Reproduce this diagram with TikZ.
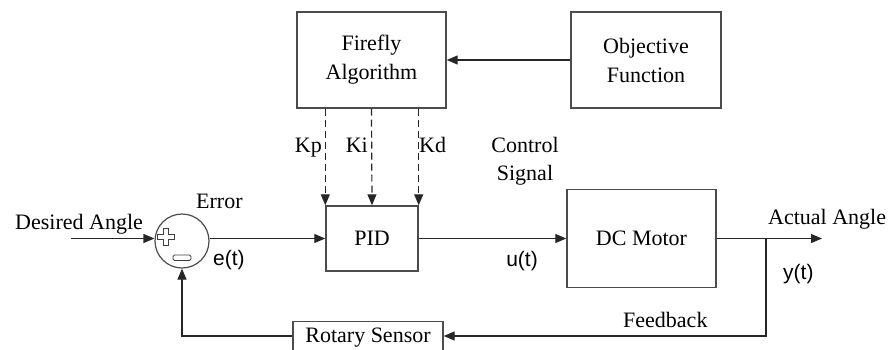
\documentclass[tikz,border=0pt]{standalone}
\usepackage{fontspec}
\setmainfont{Liberation Serif}
\newfontfamily\arialf{Liberation Sans}
\usetikzlibrary{arrows.meta,calc}
\begin{document}
\begin{tikzpicture}[x=1pt,y=-1pt,
  line/.style={draw=black!85, line width=1.2pt},
  arr/.style={line, -{Triangle[length=11pt,width=9pt]}},
  darr/.style={arr, dash pattern=on 7pt off 4pt},
  blk/.style={draw=black!70, line width=1.4pt, align=center, inner sep=0pt,
              font=\fontsize{22}{29}\selectfont},
  lbl/.style={font=\fontsize{22}{28}\selectfont, inner sep=0pt},
  sig/.style={font=\arialf\fontsize{21}{24}\selectfont, inner sep=0pt}]
\clip (0,0) rectangle (889,349);

% blocks
\node[blk, minimum width=149pt, minimum height=96pt] (ffa) at (371.5,60) {Firefly\\Algorithm};
\node[blk, minimum width=150pt, minimum height=96pt] (obj) at (646,60) {Objective\\Function};
\node[blk, minimum width=92pt, minimum height=65pt] (pid) at (372,238.5) {PID};
\node[blk, minimum width=149pt, minimum height=98pt] (dcm) at (641.5,238.5) {DC Motor};
\node[blk, minimum width=150pt, minimum height=36pt, anchor=north, text depth=0pt] (rs) at (368,321) {};
\node[lbl, anchor=base] (rst) at (368,342) {Rotary Sensor};

% summing junction
\node[draw=black!70, line width=1.2pt, circle, minimum size=54pt, inner sep=0pt] (sum) at (182,241) {};
\draw[black!75, line width=0.9pt]
  (163.5,228.5) -- (168.5,228.5) -- (168.5,234.5) -- (174.5,234.5) -- (174.5,239.5)
  -- (168.5,239.5) -- (168.5,245.5) -- (163.5,245.5) -- (163.5,239.5) -- (157.5,239.5)
  -- (157.5,234.5) -- (163.5,234.5) -- cycle;
\draw[black!75, line width=0.9pt, rounded corners=1.5pt] (173,255) rectangle (191,260.5);

% coordinates
\coordinate (in) at (71,238.5);
\coordinate (out) at (822,238.5);
\coordinate (br) at (766,238.5);
\coordinate (fbr) at (766,336);
\coordinate (fbl) at (182,336);

% connectors
\draw[arr] (obj.west) -- (ffa.east |- obj.west);
\draw[darr] (pid.north west |- ffa.south) -- (pid.north west);
\draw[darr] (ffa.south) -- (pid.north);
\draw[darr] (pid.north east |- ffa.south) -- (pid.north east);
\draw[arr] (in) -- (in -| sum.west);
\draw[arr] (sum.east |- pid.west) -- (pid.west);
\draw[arr] (pid.east) -- (dcm.west);
\draw[arr] (dcm.east) -- (out);
\draw[arr] (br) -- (fbr) -- (rs.east |- fbr);
\draw[arr] (rs.west |- fbl) -- (fbl) -- (sum.south);

% labels
\node[lbl, anchor=base west] (lda) at (15,229) {Desired Angle};
\node[lbl, anchor=base west] (lerr) at (196,208) {Error};
\node[sig, anchor=base west] (let) at (213,265) {e(t)};
\node[lbl, anchor=base east] (lkp) at (322,152) {Kp};
\node[lbl, anchor=base east] (lki) at (368,152) {Ki};
\node[lbl, anchor=base west] (lkd) at (419,152) {Kd};
\node[lbl, anchor=base, align=center] (lcs) at (525,180) {Control\\[0pt]Signal};
\node[sig, anchor=base] (lut) at (522,266) {u(t)};
\node[lbl, anchor=base west] (laa) at (768,224) {Actual Angle};
\node[sig, anchor=base west] (lyt) at (783,279) {y(t)};
\node[lbl, anchor=base west] (lfb) at (623,327) {Feedback};
\end{tikzpicture}
\end{document}
